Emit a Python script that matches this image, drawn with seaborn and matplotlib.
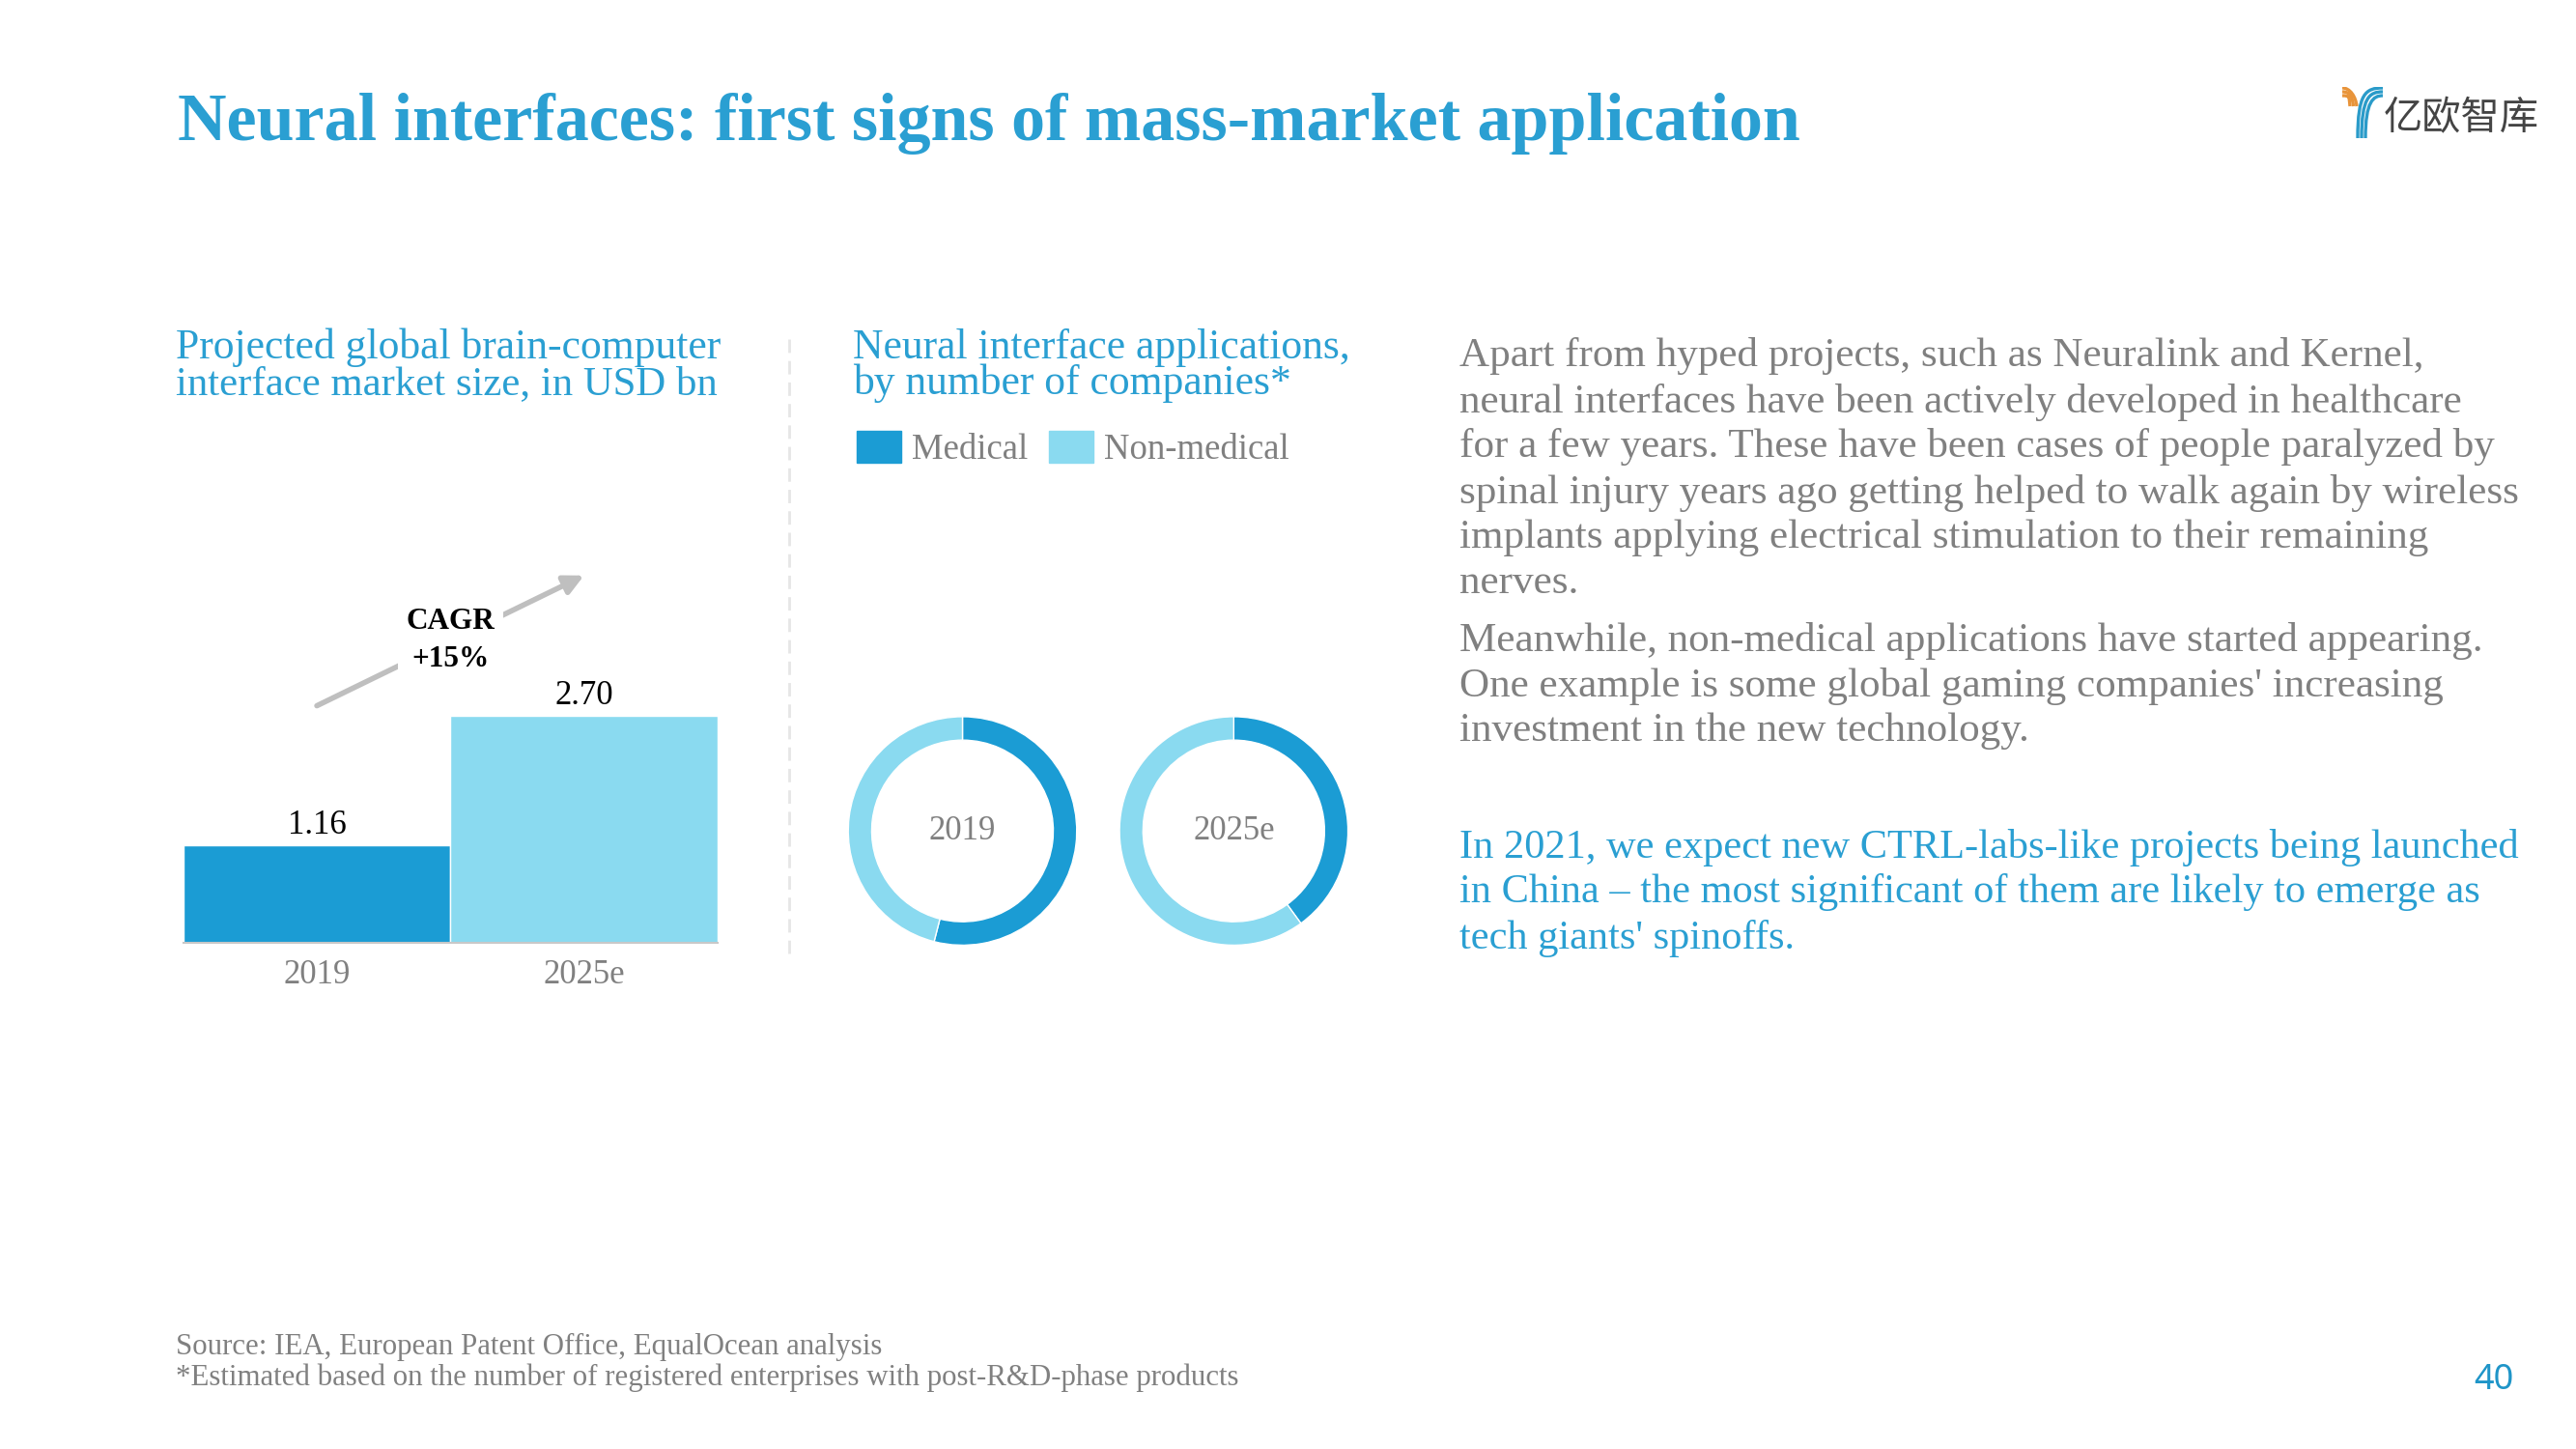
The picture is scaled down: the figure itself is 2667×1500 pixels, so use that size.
import matplotlib
matplotlib.use('Agg')
import matplotlib.pyplot as plt
from matplotlib.patches import Patch, PathPatch
from matplotlib.path import Path
import pandas as pd
import seaborn as sns

# data
years = ['2019', '2025e']
market_size = [1.16, 2.70]
medical_share = [54, 40]
non_medical_share = [46, 60]

body_lines = ['Apart from hyped projects, such as Neuralink and Kernel,',
              'neural interfaces have been actively developed in healthcare',
              'for a few years. These have been cases of people paralyzed by',
              'spinal injury years ago getting helped to walk again by wireless',
              'implants applying electrical stimulation to their remaining',
              'nerves.',
              'Meanwhile, non-medical applications have started appearing.',
              "One example is some global gaming companies' increasing",
              'investment in the new technology.']
body_y = [223, 251, 278, 306, 333, 361, 396, 424, 451]
blue_lines = ['In 2021, we expect new CTRL-labs-like projects being launched',
              'in China \u2013 the most significant of them are likely to emerge as',
              "tech giants' spinoffs."]
blue_y = [522, 549, 577]

DARK = '#1B9CD4'
LIGHT = '#8ADAF0'
BLUE_TEXT = '#2A9FD2'
GRAY = '#808080'
SERIF = 'Liberation Serif'

sns.set_theme(style='white')
plt.rcParams['font.family'] = [SERIF, 'DejaVu Serif']

fig = plt.figure(figsize=(26.67, 15), dpi=100, facecolor='white')

# positions below are read in a 1567 x 881.5 view of the slide
def fx(x):
    return x / 1567

def fy(y):
    return 1 - y / 881.5

def box(x0, y0, x1, y1):
    return [fx(x0), fy(y1), fx(x1) - fx(x0), fy(y0) - fy(y1)]

def put(x, y, s, size, color=GRAY, **kw):
    fig.text(fx(x), fy(y), s, fontsize=size, color=color, va='baseline', **kw)

# headings
put(108, 85, 'Neural interfaces: first signs of mass-market application', 50.4, BLUE_TEXT, fontweight='bold')
put(107, 218, 'Projected global brain-computer', 31.4, BLUE_TEXT)
put(107, 240, 'interface market size, in USD bn', 30.8, BLUE_TEXT)
put(519, 218, 'Neural interface applications,', 31.4, BLUE_TEXT)
put(519, 240, 'by number of companies*', 31.4, BLUE_TEXT)

# bar chart
ax = fig.add_axes(box(111.5, 299.5, 436.5, 573.5))
df = pd.DataFrame({'year': years, 'size': market_size})
sns.barplot(data=df, x='year', y='size', hue='year', palette=[DARK, LIGHT], saturation=1,
            width=1, dodge=False, legend=False, ax=ax)
ax.set_xlim(-0.5, 1.5)
ax.set_ylim(0, 5.36)
ax.set_xlabel('')
ax.set_ylabel('')
ax.set_yticks([])
ax.patch.set_alpha(0)
sns.despine(ax=ax, left=True)
ax.spines['bottom'].set_color('#C8C8C8')
ax.spines['bottom'].set_linewidth(1.5)
ax.tick_params(axis='x', length=0, labelsize=25, labelcolor=GRAY, pad=12)
for c in ax.containers:
    ax.bar_label(c, fmt='%.2f', fontsize=25, color='black', padding=3)

ax.annotate('', xy=(1.0, 4.37), xytext=(0.0, 2.82),
            arrowprops=dict(arrowstyle='-|>', color='#BFBFBF', lw=4, mutation_scale=30,
                            shrinkA=0, shrinkB=0))
ax.text(0.5, 3.6, 'CAGR\n+15%', ha='center', va='center', fontsize=22.5,
        fontweight='bold', color='black', linespacing=1.45,
        bbox=dict(facecolor='white', edgecolor='none', pad=6))

# divider
fig.add_artist(plt.Line2D([fx(480), fx(480)], [fy(206), fy(580)], color='#E6E6E6',
                          lw=2, ls=(0, (5, 3))))

# donuts
for i, cx in enumerate([585.5, 750.5]):
    dax = fig.add_axes(box(cx - 72, 505.5 - 72, cx + 72, 505.5 + 72))
    dax.pie([medical_share[i], non_medical_share[i]], colors=[DARK, LIGHT], startangle=90,
            counterclock=False, radius=1, wedgeprops=dict(width=0.205))
    dax.set_xlim(-72 / 69.5, 72 / 69.5)
    dax.set_ylim(-72 / 69.5, 72 / 69.5)
    dax.text(0, 0, years[i], ha='center', va='center', fontsize=25, color=GRAY)

# legend
fig.legend(handles=[Patch(color=DARK, label='Medical'), Patch(color=LIGHT, label='Non-medical')],
           loc='center left', bbox_to_anchor=(fx(521), fy(273)), ncol=2, frameon=False,
           fontsize=26.5, labelcolor=GRAY, borderpad=0, borderaxespad=0, handlelength=1.25,
           handleheight=1.0, handletextpad=0.3, columnspacing=0.6)

# text on the right
for s, y in zip(body_lines, body_y):
    put(888, y, s, 31.1)
for s, y in zip(blue_lines, blue_y):
    put(888, y, s, 30.5, BLUE_TEXT)

# footer
put(107, 824, 'Source: IEA, European Patent Office, EqualOcean analysis', 22.2)
put(107, 843, '*Estimated based on the number of registered enterprises with post-R&D-phase products', 22.2)
put(1505, 845, '40', 26, '#1F95C8', family='Noto Sans')

# logo
lax = fig.add_axes([2425 / 2667, 1 - 143 / 1500, 42 / 2667, 53 / 1500])
lax.set_xlim(2425, 2467)
lax.set_ylim(143, 90)
lax.axis('off')
for k in range(3):
    x = 2441 + 4 * k
    y = 91 + 4 * k
    lax.add_patch(PathPatch(Path([(x, 143), (x, y + 6), (x + 8, y), (2467, y)],
                                 [Path.MOVETO, Path.CURVE4, Path.CURVE4, Path.CURVE4]),
                            fc='none', ec='#2A9BC9', lw=2.4))
    lax.add_patch(PathPatch(Path([(2425, y), (2433, y), (2439 - 3.5 * k, 100), (2440 - 3.5 * k, 110)],
                                 [Path.MOVETO, Path.CURVE4, Path.CURVE4, Path.CURVE4]),
                            fc='none', ec='#E8943A', lw=2.4))
fig.text(2468 / 2667, 1 - 123 / 1500, '\u4ebf\u6b27\u667a\u5e93', fontsize=29, color='#444444',
         va='center', family='Noto Sans CJK SC', fontweight='light')

fig.savefig('out.png', dpi=100, facecolor='white')
